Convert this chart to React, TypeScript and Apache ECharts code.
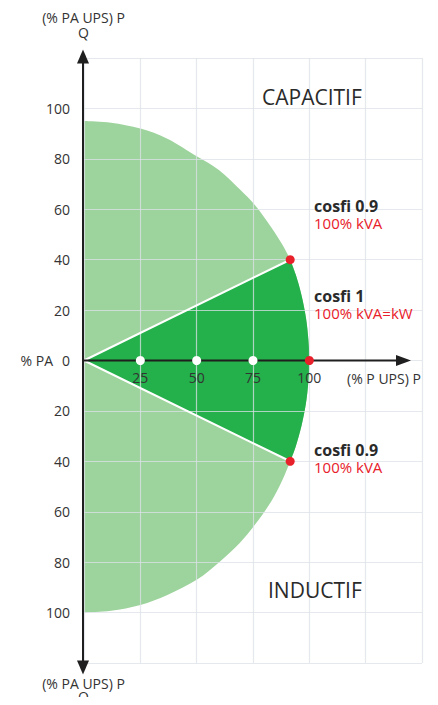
import React, { useEffect, useRef } from "react";
import * as echarts from "echarts";

// Axis ticks
const xMin = 0;
const xMax = 150;
const xStep = 25;
const yMin = -120;
const yMax = 120;
const yStep = 20;

// Boundary of the operating area, P = x (%), Q = y (%)
const topArcP = [0, 12, 25, 37, 50, 60, 69, 76, 83, 88, 91.5, 94, 96.5, 98.5, 99.6, 100];
const topArcQ = [95, 94.3, 92, 88, 81, 75.5, 68, 61.5, 53, 46, 40, 34, 26, 17, 8, 0];
const botArcP = [100, 99.6, 98.5, 96.5, 94, 91.5, 88, 83, 76, 69, 60, 50, 37, 25, 12, 0];
const botArcQ = [0, -8, -17, -26, -34, -40, -47.5, -56, -65, -72.5, -80, -87, -93, -97, -99.3, -100];

// Red rated points (cosfi 0.9 capacitive, cosfi 1, cosfi 0.9 inductive)
const ratedP = [91.5, 100, 91.5];
const ratedQ = [40, 0, -40];

// White load marks on the P axis
const loadMarks = [25, 50, 75];

const FONT = "'Open Sans', 'Noto Sans', sans-serif";
const LIGHT = "#9dd39c";
const DARK = "#24b04b";
const RED = "#e8202a";
const INK = "#2a2a2a";

const GRID_TOP = 58;
const GRID_BOTTOM = 42;
const HEIGHT = 705;

function smoothPath(pts: number[][]): string {
  let d = "";
  for (let i = 0; i < pts.length - 1; i++) {
    const p0 = pts[i - 1] || pts[i];
    const p1 = pts[i];
    const p2 = pts[i + 1];
    const p3 = pts[i + 2] || p2;
    const c1x = p1[0] + (p2[0] - p0[0]) / 6;
    const c1y = p1[1] + (p2[1] - p0[1]) / 6;
    const c2x = p2[0] - (p3[0] - p1[0]) / 6;
    const c2y = p2[1] - (p3[1] - p1[1]) / 6;
    d += ` C ${c1x} ${c1y} ${c2x} ${c2y} ${p2[0]} ${p2[1]}`;
  }
  return d;
}

export default function App() {
  const ref = useRef<HTMLDivElement>(null);

  useEffect(() => {
    if (!ref.current) return;
    const chart = echarts.init(ref.current, undefined, { renderer: "svg" });

    const topArc = topArcP.map((p, i) => [p, topArcQ[i]]);
    const botArc = botArcP.map((p, i) => [p, botArcQ[i]]);
    const fullArc = topArc.concat(botArc.slice(1));
    const darkArc = fullArc.filter((pt) => pt[0] >= ratedP[0] - 0.01 && Math.abs(pt[1]) <= ratedQ[0] + 0.01);

    const lightRender = (params: any, api: any) => {
      if (params.dataIndex !== 0) return null;
      const px = fullArc.map((p) => api.coord(p));
      const d = `M ${px[0][0]} ${px[0][1]}` + smoothPath(px) + " Z";
      return { type: "path", shape: { pathData: d }, style: { fill: LIGHT } };
    };
    const darkRender = (params: any, api: any) => {
      if (params.dataIndex !== 0) return null;
      const o = api.coord([0, 0]);
      const px = darkArc.map((p) => api.coord(p));
      const d = `M ${o[0]} ${o[1]} L ${px[0][0]} ${px[0][1]}` + smoothPath(px) + " Z";
      return { type: "path", shape: { pathData: d }, style: { fill: DARK } };
    };

    // pixel offset that puts the P axis (and its labels) on Q = 0
    const plotH = HEIGHT - GRID_TOP - GRID_BOTTOM;
    const zeroFromBottom = (plotH * (0 - yMin)) / (yMax - yMin);

    chart.setOption({
      animation: false,
      textStyle: { fontFamily: FONT },
      grid: { left: 84, right: 16, top: GRID_TOP, bottom: GRID_BOTTOM, containLabel: false },
      xAxis: {
        type: "value",
        min: xMin,
        max: xMax,
        interval: xStep,
        z: 2,
        position: "bottom",
        offset: -zeroFromBottom,
        axisLine: { show: false, onZero: false },
        axisTick: { show: false },
        splitLine: { show: true, lineStyle: { color: "rgba(220,226,232,0.75)", width: 1.2 } },
        axisLabel: {
          margin: 10,
          fontSize: 14,
          color: "#333",
          fontFamily: FONT,
          formatter: (v: number) => (v > 0 && v <= 100 ? String(v) : ""),
        },
      },
      yAxis: {
        type: "value",
        min: yMin,
        max: yMax,
        interval: yStep,
        z: 2,
        axisLine: { show: false },
        axisTick: { show: false },
        splitLine: { show: true, lineStyle: { color: "rgba(220,226,232,0.75)", width: 1.2 } },
        axisLabel: {
          margin: 14,
          fontSize: 14,
          color: "#333",
          fontFamily: FONT,
          formatter: (v: number) => (Math.abs(v) > 100 ? "" : String(Math.abs(v))),
        },
      },
      series: [
        {
          type: "custom",
          z: 1,
          clip: false,
          silent: true,
          renderItem: lightRender,
          data: [[0, 0]],
          encode: { x: 0, y: 1 },
        },
        {
          type: "custom",
          z: 1,
          clip: false,
          silent: true,
          renderItem: darkRender,
          data: [[0, 0]],
          encode: { x: 0, y: 1 },
        },
        {
          type: "line",
          z: 3,
          symbol: "none",
          lineStyle: { color: "#ffffff", width: 2.2 },
          data: [
            [ratedP[0], ratedQ[0]],
            [0, 0],
            [ratedP[2], ratedQ[2]],
          ],
        },
        {
          type: "scatter",
          z: 6,
          symbolSize: 9,
          itemStyle: { color: "#ffffff", opacity: 1 },
          data: loadMarks.map((v) => [v, 0]),
        },
        {
          type: "scatter",
          z: 6,
          symbolSize: 9,
          itemStyle: { color: RED, opacity: 1 },
          data: ratedP.map((p, i) => [p, ratedQ[i]]),
        },
      ],
    });

    const o = chart.convertToPixel({ gridIndex: 0 }, [0, 0]) as number[];
    const ox = o[0] - 1;
    const oy = o[1];
    const axisColor = "#1f1f1f";
    const txt = (text: string, x: number, y: number, opts: any = {}) => ({
      type: "text",
      x,
      y,
      z: 10,
      silent: true,
      style: {
        text,
        fill: opts.fill || INK,
        font: `${opts.weight || "normal"} ${opts.size || 14}px ${FONT}`,
        textAlign: opts.align || "left",
        textVerticalAlign: "middle",
      },
    });
    const pair = (title: string, sub: string, x: number, y: number) => ({
      type: "text",
      x,
      y,
      z: 10,
      silent: true,
      style: {
        text: `{a|${title}}\n{b|${sub}}`,
        textAlign: "left",
        textVerticalAlign: "top",
        rich: {
          a: { fontFamily: FONT, fontSize: 16, fontWeight: "bold", fill: INK, lineHeight: 17 },
          b: { fontFamily: FONT, fontSize: 15, fill: RED, lineHeight: 17 },
        },
      },
    });

    chart.setOption({
      graphic: [
        // Q axis
        { type: "line", z: 5, silent: true, shape: { x1: ox, y1: oy - 298, x2: ox, y2: oy + 301 }, style: { stroke: axisColor, lineWidth: 2 } },
        { type: "polygon", z: 5, silent: true, shape: { points: [[ox, oy - 311], [ox - 6, oy - 297], [ox + 6, oy - 297]] }, style: { fill: axisColor } },
        { type: "polygon", z: 5, silent: true, shape: { points: [[ox, oy + 314], [ox - 6, oy + 300], [ox + 6, oy + 300]] }, style: { fill: axisColor } },
        // P axis
        { type: "line", z: 5, silent: true, shape: { x1: ox, y1: oy, x2: ox + 315, y2: oy }, style: { stroke: axisColor, lineWidth: 2 } },
        { type: "polygon", z: 5, silent: true, shape: { points: [[ox + 328, oy], [ox + 313, oy - 5.5], [ox + 313, oy + 5.5]] }, style: { fill: axisColor } },
        // axis names
        txt("(% PA UPS) P", 83.5, 17, { align: "center", fill: "#333" }),
        txt("Q", 83.5, 32, { align: "center", fill: "#333" }),
        txt("(% PA UPS) P", 83.5, 683, { align: "center", fill: "#333" }),
        txt("Q", 83.5, 696, { align: "center", fill: "#333" }),
        txt("% PA", 53, oy, { align: "right", fill: "#333" }),
        txt("(% P UPS) P", 347, 378, { fill: "#333" }),
        // zones
        txt("CAPACITIF", 262, 97, { size: 21 }),
        txt("INDUCTIF", 268, 590, { size: 21 }),
        // rated points
        pair("cosfi 0.9", "100% kVA", 314, 197),
        pair("cosfi 1", "100% kVA=kW", 314, 287),
        pair("cosfi 0.9", "100% kVA", 314, 441),
      ],
    });

    return () => chart.dispose();
  }, []);

  return <div ref={ref} style={{ width: 438, height: HEIGHT, margin: -8 }} />;
}
